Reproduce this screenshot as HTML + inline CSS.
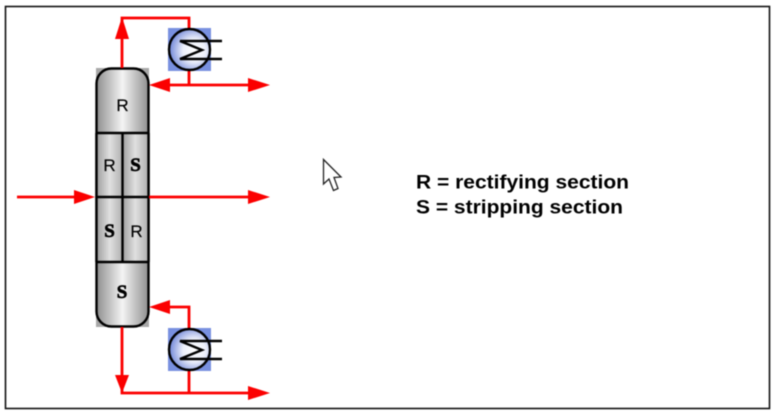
<!DOCTYPE html>
<html>
<head>
<meta charset="utf-8">
<style>
html,body{margin:0;padding:0;background:#fff;width:773px;height:416px;overflow:hidden}
svg{display:block;filter:blur(0.4px)}
</style>
</head>
<body>
<svg width="773" height="416" viewBox="0 0 773 416" xmlns="http://www.w3.org/2000/svg">
<defs>
<linearGradient id="g" x1="0" x2="1" y1="0" y2="0">
<stop offset="0" stop-color="#8f8f8f"/><stop offset="0.5" stop-color="#f4f4f4"/><stop offset="1" stop-color="#8f8f8f"/>
</linearGradient>
<linearGradient id="h" x1="0" x2="1" y1="0" y2="0">
<stop offset="0" stop-color="#a0a0a0"/><stop offset="0.5" stop-color="#e0e0e0"/><stop offset="1" stop-color="#b0b0b0"/>
</linearGradient>
<radialGradient id="b" cx="0.62" cy="0.52" r="0.62">
<stop offset="0" stop-color="#fff"/><stop offset="0.45" stop-color="#eceffa"/><stop offset="1" stop-color="#6f86d8"/>
</radialGradient>
</defs>
<rect x="5.5" y="6.5" width="764" height="402" fill="#fff" stroke="#111" stroke-width="1.6"/>

<!-- column -->
<rect x="96" y="68" width="53" height="259" fill="#a8a8a8"/>
<rect x="96.5" y="68.5" width="52" height="258" rx="15" ry="15" fill="url(#g)" stroke="#000" stroke-width="2.4"/>
<rect x="97" y="133" width="25.5" height="129" fill="url(#h)"/>
<rect x="122.5" y="133" width="25.5" height="129" fill="url(#h)"/>
<g stroke="#000" stroke-width="2.4" fill="none">
<line x1="96.5" y1="133" x2="96.5" y2="262"/>
<line x1="148.5" y1="133" x2="148.5" y2="262"/>
<line x1="96" y1="133" x2="149" y2="133"/>
<line x1="96" y1="197" x2="149" y2="197"/>
<line x1="96" y1="262" x2="149" y2="262"/>
<line x1="122.5" y1="133" x2="122.5" y2="262"/>
</g>

<!-- red lines -->
<g stroke="#fb0000" stroke-width="2.8" fill="none">
<path d="M122 68V18H189V28"/>
<path d="M189 71V85M160 85H255"/>
<path d="M17 197H80M149 197H255"/>
<path d="M189 328V307H165"/>
<path d="M122 327V393H255M189 371V393"/>
</g>
<g fill="#fb0000">
<path d="M122 17L129 39H115Z"/>
<path d="M149 85L170 78V92Z"/>
<path d="M270 85L248 78V92Z"/>
<path d="M95 197L74 190V204Z"/>
<path d="M270 197L248 190V204Z"/>
<path d="M149 307L170 300V314Z"/>
<path d="M122 393L115 375H129Z"/>
<path d="M270 393L248 386V400Z"/>
</g>

<!-- exchangers -->
<g>
<rect x="168" y="28" width="43" height="43" fill="#7890e0"/>
<circle cx="189.5" cy="49.5" r="20.5" fill="url(#b)" stroke="#000" stroke-width="2.4"/>
<path d="M222 41H180L202 50L180 59H222" fill="none" stroke="#000" stroke-width="2.4"/>
</g>
<g>
<rect x="168" y="328" width="43" height="43" fill="#7890e0"/>
<circle cx="189.5" cy="349.5" r="20.5" fill="url(#b)" stroke="#000" stroke-width="2.4"/>
<path d="M222 341H180L202 350L180 359H222" fill="none" stroke="#000" stroke-width="2.4"/>
</g>

<!-- section labels -->
<g fill="#000" font-family="'Liberation Sans',sans-serif" font-size="17" text-anchor="middle" stroke="#000" stroke-width="0.2">
<text x="122.5" y="111">R</text>
<text x="109.5" y="171">R</text>
<text x="136.5" y="237">R</text>
</g>
<g fill="#000" font-family="'Liberation Serif',serif" font-weight="bold" font-size="19" text-anchor="middle" stroke="#000" stroke-width="0.7">
<text x="135.5" y="171">S</text>
<text x="109.5" y="237">S</text>
<text x="122" y="298">S</text>
</g>

<!-- cursor -->
<path d="M323.5 159.5V184L329 179L333.5 190.5L338 188.5L334 177.5L341 177Z" fill="#fff" stroke="#222" stroke-width="1.3"/>

<!-- legend -->
<g fill="#000" font-family="'Liberation Sans',sans-serif" font-weight="bold" font-size="19">
<text x="416" y="188.5" textLength="213" lengthAdjust="spacingAndGlyphs">R = rectifying section</text>
<text x="416" y="213.5" textLength="207" lengthAdjust="spacingAndGlyphs">S = stripping section</text>
</g>
</svg>
</body>
</html>
